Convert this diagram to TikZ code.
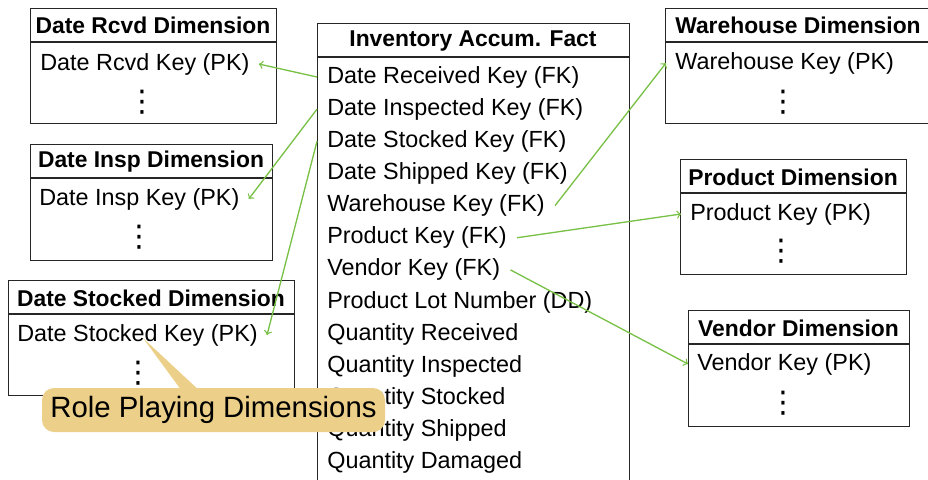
\documentclass[tikz,border=0pt]{standalone}
\usepackage{fontspec}
\setmainfont{Liberation Sans}
\newfontfamily\symfont{DejaVu Sans}
\usetikzlibrary{calc}
\definecolor{linkgreen}{RGB}{120,192,70}
\definecolor{notefill}{RGB}{236,207,136}
\begin{document}
\begin{tikzpicture}[
  tbl/.style={draw=black!85, line width=0.7pt, rectangle, anchor=north west, inner sep=0pt},
  ttl/.style={inner sep=0pt, font=\fontsize{13}{15}\selectfont\bfseries},
  row/.style={anchor=west, inner xsep=0.2cm, inner ysep=0pt, font=\fontsize{13.3}{16}\selectfont},
  key/.style={row, inner xsep=0.18cm},
  dotcol/.style={inner sep=0pt, font=\symfont\fontsize{17}{17}\selectfont},
  link/.style={->, draw=linkgreen, line width=0.75pt},
  note/.style={fill=notefill, rounded corners=0.24cm, minimum width=6.86cm, minimum height=0.88cm, inner sep=0pt, font=\fontsize{16.7}{19}\selectfont}
]
\useasboundingbox (0,0) rectangle (18.56,-9.58);
\node[tbl, minimum width=4.92cm, minimum height=2.30cm] (rcvd) at (0.60,-0.16) {};
\node[tbl, minimum width=4.84cm, minimum height=2.32cm] (insp) at (0.60,-2.88) {};
\node[tbl, minimum width=5.72cm, minimum height=2.30cm] (stkd) at (0.16,-5.60) {};
\node[tbl, minimum width=6.24cm, minimum height=9.40cm] (fact) at (6.34,-0.46) {};
\node[tbl, minimum width=5.60cm, minimum height=2.30cm] (wh) at (13.30,-0.16) {};
\node[tbl, minimum width=4.52cm, minimum height=2.30cm] (prod) at (13.60,-3.18) {};
\node[tbl, minimum width=4.42cm, minimum height=2.32cm] (vend) at (13.76,-6.20) {};
\foreach \b in {rcvd,insp,stkd,fact,wh,prod,vend}
  \draw[black!85, line width=0.7pt] ([yshift=-0.68cm]\b.north west) -- ([yshift=-0.68cm]\b.north east);
\node[ttl] (trcvd) at (3.06,-0.50) {Date Rcvd Dimension};
\node[ttl] (tinsp) at (3.02,-3.24) {Date Insp Dimension};
\node[ttl] (tstkd) at (3.02,-5.96) {Date Stocked Dimension};
\node[ttl] (tfact) at (9.46,-0.82) {Inventory Accum. Fact};
\node[ttl] (twh) at (15.96,-0.50) {Warehouse Dimension};
\node[ttl] (tprod) at (15.86,-3.54) {Product Dimension};
\node[ttl] (tvend) at (15.97,-6.56) {Vendor Dimension};
\node[key] (krcvd) at (0.62,-1.28) {Date Rcvd Key (PK)};
\node[key] (kinsp) at (0.60,-3.98) {Date Insp Key (PK)};
\node[key] (kstkd) at (0.16,-6.70) {Date Stocked Key (PK)};
\node[key] (kwh) at (13.32,-1.26) {Warehouse Key (PK)};
\node[key] (kprod) at (13.62,-4.28) {Product Key (PK)};
\node[key] (kvend) at (13.76,-7.28) {Vendor Key (PK)};
\node[dotcol] (drcvd) at (2.84,-2.04) {⋮};
\node[dotcol] (dinsp) at (2.78,-4.74) {⋮};
\node[dotcol] (dstkd) at (2.76,-7.46) {⋮};
\node[dotcol] (dwh) at (15.66,-2.04) {⋮};
\node[dotcol] (dprod) at (15.62,-5.02) {⋮};
\node[dotcol] (dvend) at (15.66,-8.06) {⋮};
\foreach \t [count=\i] in {Date Received Key (FK), Date Inspected Key (FK), Date Stocked Key (FK),
    Date Shipped Key (FK), Warehouse Key (FK), Product Key (FK), Vendor Key (FK),
    Product Lot Number (DD), Quantity Received, Quantity Inspected, Quantity Stocked,
    Quantity Shipped, Quantity Damaged}
  \node[row] (f\i) at (6.34,{-1.54-0.643*(\i-1)}) {\t};
\draw[link] (f1.west) -- (krcvd.east);
\draw[link] (f2.west) -- (kinsp.east);
\draw[link] (f3.west) -- (kstkd.east);
\draw[link] (f5.east) -- (kwh.west);
\draw[link] (f6.east) -- (kprod.west);
\draw[link] (f7.east) -- (kvend.west);
\coordinate (tip) at (2.86,-6.76);
\node[note] (role) at (4.27,-8.20) {Role Playing Dimensions};
\fill[notefill] ([xshift=-0.63cm,yshift=-2pt]role.north) -- (tip) -- ([xshift=-0.27cm,yshift=-2pt]role.north) -- cycle;
\end{tikzpicture}
\end{document}
